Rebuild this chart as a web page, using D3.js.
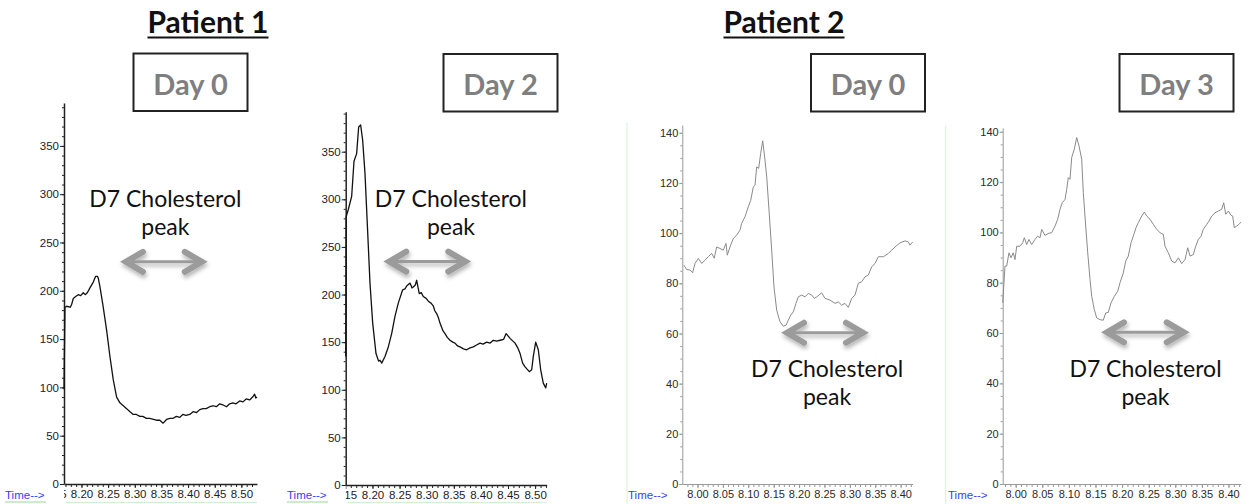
<!DOCTYPE html>
<html>
<head>
<meta charset="utf-8">
<title>D7 Cholesterol peak - Patient 1 and Patient 2</title>
<script src="https://cdn.jsdelivr.net/npm/d3@7"></script>
<style>
  body { margin: 0; background: #fff; }
  svg { display: block; }
  .tick text { font-family: "Liberation Sans", Arial, sans-serif; }
  .title { font-family: Lato, "Open Sans", sans-serif; font-weight: 700; }
  .note { font-family: Lato, "Open Sans", sans-serif; }
</style>
</head>
<body>
<svg id="chart" width="1249" height="504"></svg>
<script>
// ---- data: [time, abundance] ----
var p1Day0 = [[8.1672,98],[8.1690,183],[8.1723,184],[8.1790,183],[8.1816,186],[8.1846,192],[8.1890,194],[8.1940,196],
  [8.1985,195],[8.2034,198],[8.2070,196],[8.2109,198],[8.2159,203],[8.2221,209],[8.2266,215],[8.2300,215],[8.2315,213],
  [8.2347,204],[8.2408,183],[8.2472,159],[8.2534,132],[8.2596,108],[8.2659,90],[8.2721,84],[8.2785,81],[8.2847,78],
  [8.2905,75],[8.2970,72],[8.3030,72],[8.3096,70],[8.3150,70],[8.3220,68],[8.3283,68],[8.3350,67],[8.3408,66],
  [8.3470,66],[8.3532,63],[8.3600,67],[8.3657,68],[8.3720,68],[8.3780,70],[8.3845,69],[8.3900,72],[8.3960,71],
  [8.4032,72],[8.4100,75],[8.4160,74],[8.4219,77],[8.4280,78],[8.4340,78],[8.4406,80],[8.4470,81],[8.4530,80],
  [8.4594,83],[8.4650,82],[8.4720,80],[8.4781,83],[8.4840,84],[8.4900,83],[8.4968,86],[8.5030,85],[8.5090,88],
  [8.5155,87],[8.5210,90],[8.5249,93],[8.5270,89],[8.5293,90]];

var p1Day2 = [[8.1506,135],[8.1515,282],[8.1553,289],[8.1616,303],[8.1659,340],[8.1708,348],[8.1745,376],[8.1782,378],
  [8.1819,362],[8.1862,327],[8.1904,275],[8.1954,212],[8.2004,170],[8.2065,138],[8.2114,130],[8.2140,131],[8.2170,128],
  [8.2231,135],[8.2292,145],[8.2354,159],[8.2415,177],[8.2476,191],[8.2557,205],[8.2600,206],[8.2631,209],[8.2692,212],
  [8.2730,207],[8.2753,208],[8.2790,210],[8.2815,215],[8.2863,201],[8.2900,202],[8.2937,198],[8.2990,196],[8.3030,193],
  [8.3080,191],[8.3122,188],[8.3150,183],[8.3184,180],[8.3220,175],[8.3245,170],[8.3300,162],[8.3338,159],[8.3380,155],
  [8.3430,152],[8.3480,150],[8.3522,149],[8.3570,146],[8.3614,145],[8.3680,143],[8.3738,142],[8.3800,144],[8.3860,145],
  [8.3920,147],[8.3984,149],[8.4040,148],[8.4107,150],[8.4170,149],[8.4229,152],[8.4290,151],[8.4354,152],[8.4420,153],
  [8.4465,159],[8.4538,154],[8.4630,149],[8.4680,144],[8.4723,138],[8.4770,128],[8.4815,124],[8.4893,119],[8.4937,121],
  [8.4967,135],[8.5011,150],[8.5059,142],[8.5103,121],[8.5151,107],[8.5196,102],[8.5214,107]];

var p2Day0 = [[7.9734,87.2],[7.9787,85.5],[7.9852,85.3],[7.9905,84.2],[7.9951,87.9],[8.0016,89.9],[8.0083,87.9],
  [8.0148,89.2],[8.0213,90.6],[8.0280,91.9],[8.0330,90],[8.0378,94.5],[8.0443,93.9],[8.0508,93.2],[8.0561,95.9],
  [8.0587,91.2],[8.0640,94.5],[8.0705,97.9],[8.0772,99.2],[8.0837,101.2],[8.0870,103.9],[8.0935,106.5],[8.1000,110.5],
  [8.1048,113.1],[8.1099,118.4],[8.1132,119.1],[8.1166,126.4],[8.1205,125.8],[8.1244,131.8],[8.1284,136.8],[8.1329,129.1],
  [8.1363,122.4],[8.1408,109.2],[8.1461,93.2],[8.1506,78.6],[8.1559,69.3],[8.1624,64.7],[8.1689,62.9],[8.1743,63.3],
  [8.1788,65.3],[8.1835,67.3],[8.1886,68.6],[8.1939,72],[8.1985,74.6],[8.2052,75.3],[8.2117,74.6],[8.2182,76],
  [8.2249,75.3],[8.2300,74],[8.2347,74.6],[8.2445,76.2],[8.2510,74],[8.2609,73.3],[8.2707,72],[8.2772,72.6],
  [8.2839,71.3],[8.2904,72],[8.2969,70.4],[8.3036,74],[8.3101,75.3],[8.3166,80],[8.3233,80.6],[8.3298,82.6],
  [8.3363,83.3],[8.3430,86.6],[8.3495,87.9],[8.3560,90.6],[8.3659,90.6],[8.3757,91.9],[8.3824,93.2],[8.3889,94.5],
  [8.3987,96.1],[8.4086,96.9],[8.4151,96.5],[8.4184,95.2],[8.4237,96.5]];

var p2Day3 = [[7.9756,72],[7.9774,78],[7.9799,86.6],[7.9831,86.6],[7.9874,91.9],[7.9912,89.9],[7.9955,91.9],[7.9987,89.2],
  [8.0019,94.5],[8.0081,94.5],[8.0132,95.9],[8.0162,97.9],[8.0207,95.2],[8.0250,97.2],[8.0301,95.2],[8.0363,97.2],
  [8.0414,98.5],[8.0457,97.9],[8.0489,101.2],[8.0551,98.8],[8.0613,99.6],[8.0677,99.9],[8.0739,102.5],[8.0790,105.2],
  [8.0833,109.2],[8.0876,111.8],[8.0927,113.1],[8.0959,117.1],[8.0989,121.8],[8.1021,121.1],[8.1053,129.8],[8.1102,133.1],
  [8.1147,137.7],[8.1190,134.4],[8.1241,129.1],[8.1271,115.8],[8.1316,102.5],[8.1354,91.9],[8.1397,81.3],[8.1429,74.6],
  [8.1478,69.3],[8.1523,66],[8.1585,65.3],[8.1647,65.1],[8.1692,68],[8.1741,68.2],[8.1792,72],[8.1854,74.6],
  [8.1918,76.6],[8.1961,80],[8.2023,83.9],[8.2068,88.6],[8.2117,90.6],[8.2168,95.9],[8.2211,98.5],[8.2262,101.9],
  [8.2305,103.9],[8.2369,106.5],[8.2418,108.1],[8.2463,106.5],[8.2525,105.2],[8.2587,103.2],[8.2651,101.2],[8.2713,99.9],
  [8.2775,99.2],[8.2807,94.5],[8.2869,91.9],[8.2933,88.6],[8.2995,87.9],[8.3057,89.9],[8.3121,87.6],[8.3183,89.2],
  [8.3234,93.9],[8.3277,90.6],[8.3339,91.2],[8.3384,94.5],[8.3433,97.2],[8.3484,98.5],[8.3527,101.2],[8.3591,103.2],
  [8.3634,104.5],[8.3685,106.5],[8.3747,107.8],[8.3809,108.5],[8.3873,109.2],[8.3910,111.8],[8.3948,107.2],[8.3997,108.5],
  [8.4048,106.8],[8.4079,106.5],[8.4109,101.9],[8.4154,102.5],[8.4197,103.2],[8.4235,104.1]];

// tick labels
var yTicksP1 = [0, 50, 100, 150, 200, 250, 300, 350];
var yTicksP2 = [0, 20, 40, 60, 80, 100, 120, 140];
var xTicksP1 = [8.15, 8.20, 8.25, 8.30, 8.35, 8.40, 8.45, 8.50];
var xTicksP2 = [8.00, 8.05, 8.10, 8.15, 8.20, 8.25, 8.30, 8.35, 8.40];

var titles = ["Patient 1", "Patient 2"];
var days = ["Day 0", "Day 2", "Day 0", "Day 3"];
var noteLines = ["D7 Cholesterol", "peak"];

var svg = d3.select("#chart");
var defs = svg.append("defs");
var f = defs.append("filter").attr("id", "shadow").attr("x", "-20%").attr("y", "-60%").attr("width", "140%").attr("height", "260%");
f.append("feDropShadow").attr("dx", 1).attr("dy", 3).attr("stdDeviation", 2).attr("flood-color", "#000").attr("flood-opacity", 0.3);

// titles
[{t: titles[0], cx: 208}, {t: titles[1], cx: 784}].forEach(function (d) {
  var tx = svg.append("text").attr("class", "title").attr("x", d.cx).attr("y", 33)
    .attr("text-anchor", "middle").attr("font-size", 30).attr("fill", "#111").text(d.t);
  var w = tx.node().getComputedTextLength();
  svg.append("line").attr("x1", d.cx - w / 2).attr("x2", d.cx + w / 2)
    .attr("y1", 37.5).attr("y2", 37.5).attr("stroke", "#111").attr("stroke-width", 2);
});

// day boxes
var boxes = [{x: 133.5, y: 53.5}, {x: 443.5, y: 54}, {x: 811, y: 54}, {x: 1119.5, y: 54}];
boxes.forEach(function (b, i) {
  svg.append("rect").attr("x", b.x).attr("y", b.y).attr("width", 114).attr("height", 57.5)
    .attr("fill", "#fff").attr("stroke", "#222").attr("stroke-width", 2);
  svg.append("text").attr("class", "title").attr("x", b.x + 57).attr("y", b.y + 41)
    .attr("text-anchor", "middle").attr("font-size", 29).attr("fill", "#7f7f7f").text(days[i]);
});

var panels = [
  {data: p1Day0, x0: 64, x1: 257, xDom: [8.1672, 8.5293], yBase: 484, yTop: 103, yMax: 394.4,
   yTicks: yTicksP1, yStep: 10, xTicks: xTicksP1, dark: true, timeX: 5, frame: null,
   note: {t: 8.3573, v1: 287, v2: 258, a: [8.2796, 8.4294], av: 230}},
  {data: p1Day2, x0: 345.7, x1: 546.7, xDom: [8.1506, 8.5214], yBase: 485, yTop: 111.7, yMax: 392,
   yTicks: yTicksP1, yStep: 10, xTicks: xTicksP1, dark: true, timeX: 287, frame: null,
   note: {t: 8.3448, v1: 292.3, v2: 262.6, a: [8.2273, 8.3749], av: 234.6}},
  {data: p2Day0, x0: 682.3, x1: 912.7, xDom: [7.9701, 8.4237], yBase: 484, yTop: 125, yMax: 143.1,
   yTicks: yTicksP2, yStep: 5, xTicks: xTicksP2, dark: false, timeX: 628, frame: 627,
   note: {t: 8.2550, v1: 42.7, v2: 31.5, a: [8.1723, 8.3298], av: 60.3}},
  {data: p2Day3, x0: 1002.7, x1: 1241, xDom: [7.9756, 8.4235], yBase: 484, yTop: 128, yMax: 141.5,
   yTicks: yTicksP2, yStep: 5, xTicks: xTicksP2, dark: false, timeX: 948, frame: 945.7,
   note: {t: 8.2440, v1: 42.7, v2: 31.5, a: [8.1679, 8.3196], av: 60.3}}
];

panels.forEach(function (p, i) {
  var g = svg.append("g");
  var x = d3.scaleLinear().domain(p.xDom).range([p.x0, p.x1]);
  var y = d3.scaleLinear().domain([0, p.yMax]).range([p.yBase, p.yTop]);
  var axisCol = p.dark ? "#222" : "#999";
  var txtCol = p.dark ? "#1c1c28" : "#2a2a2a";
  var fs = p.dark ? 11.5 : 11;

  if (p.frame !== null) {
    g.append("line").attr("x1", p.frame).attr("x2", p.frame).attr("y1", p.yTop - 2).attr("y2", 504)
      .attr("stroke", "#d6f2d6").attr("stroke-width", 1);
  } else {
    g.append("line").attr("x1", p.timeX).attr("x2", p.timeX + 41).attr("y1", 502).attr("y2", 502)
      .attr("stroke", "#9ad89a").attr("stroke-width", 1);
    g.append("line").attr("x1", p.x0 + 2).attr("x2", p.x1).attr("y1", 502.5).attr("y2", 502.5)
      .attr("stroke", "#d2efd2").attr("stroke-width", 1);
  }

  // clip for labels cut at the left edge of the x axis (local coords of the axis group)
  defs.append("clipPath").attr("id", "clipx" + i).append("rect")
    .attr("x", p.x0).attr("y", -3).attr("width", p.x1 - p.x0 + 20).attr("height", 30);

  // y minor ticks
  var yMinor = d3.range(0, p.yMax, p.yStep);
  g.append("g").attr("transform", "translate(" + p.x0 + ",0)")
    .call(d3.axisLeft(y).tickValues(yMinor).tickSize(2).tickSizeOuter(0).tickFormat(""))
    .call(function (a) { a.select(".domain").remove(); a.selectAll("line").attr("stroke", axisCol); });

  var ya = g.append("g").attr("transform", "translate(" + p.x0 + ",0)")
    .call(d3.axisLeft(y).tickValues(p.yTicks).tickSize(p.dark ? 4 : 3).tickSizeOuter(0).tickPadding(1));
  ya.select(".domain").attr("stroke", axisCol).attr("stroke-width", p.dark ? 1.5 : 1);
  ya.selectAll("line").attr("stroke", axisCol);
  ya.selectAll("text").attr("font-size", fs).attr("fill", txtCol);

  // x minor ticks
  var xMinor = d3.range(Math.ceil(p.xDom[0] * 100), Math.floor(p.xDom[1] * 100) + 1).map(function (d) { return d / 100; });
  g.append("g").attr("transform", "translate(0," + p.yBase + ")")
    .call(d3.axisBottom(x).tickValues(xMinor).tickSize(3).tickSizeOuter(0).tickFormat(""))
    .call(function (a) { a.select(".domain").remove(); a.selectAll("line").attr("stroke", axisCol); });

  var xa = g.append("g").attr("transform", "translate(0," + p.yBase + ")").attr("clip-path", "url(#clipx" + i + ")")
    .call(d3.axisBottom(x).tickValues(p.xTicks).tickSize(4).tickSizeOuter(0).tickPadding(2).tickFormat(d3.format(".2f")));
  xa.select(".domain").attr("stroke", axisCol).attr("stroke-width", p.dark ? 1.5 : 1);
  xa.selectAll("line").attr("stroke", axisCol);
  xa.selectAll("text").attr("font-size", fs).attr("fill", txtCol);

  g.append("text").attr("x", p.timeX).attr("y", 499).attr("font-family", "Liberation Sans, Arial, sans-serif")
    .attr("font-size", 11.5).attr("fill", "#3340ff").text("Time-->");

  // trace
  var line = d3.line().x(function (d) { return x(d[0]); }).y(function (d) { return y(d[1]); });
  g.append("path").datum(p.data).attr("d", line).attr("fill", "none")
    .attr("stroke", p.dark ? "#111" : "#8a8a8a").attr("stroke-width", p.dark ? 1.3 : 1)
    .attr("stroke-linejoin", "round");

  // annotation
  var n = p.note;
  g.append("text").attr("class", "note").attr("x", x(n.t)).attr("y", y(n.v1)).attr("text-anchor", "middle")
    .attr("font-size", 23).attr("fill", "#111").text(noteLines[0]);
  g.append("text").attr("class", "note").attr("x", x(n.t)).attr("y", y(n.v2)).attr("text-anchor", "middle")
    .attr("font-size", 23).attr("fill", "#111").text(noteLines[1]);

  var ax0 = x(n.a[0]), ax1 = x(n.a[1]), ay = y(n.av);
  var arrow = g.append("g").attr("filter", "url(#shadow)");
  arrow.append("line").attr("x1", ax0 + 3).attr("x2", ax1 - 3).attr("y1", ay).attr("y2", ay)
    .attr("stroke", "#9b9b9b").attr("stroke-width", 3);
  arrow.append("path")
    .attr("d", "M" + (ax0 + 19) + "," + (ay - 10) + "L" + (ax0 + 2) + "," + ay + "L" + (ax0 + 19) + "," + (ay + 10) +
               "M" + (ax1 - 19) + "," + (ay - 10) + "L" + (ax1 - 2) + "," + ay + "L" + (ax1 - 19) + "," + (ay + 10))
    .attr("fill", "none").attr("stroke", "#9b9b9b").attr("stroke-width", 6).attr("stroke-linecap", "round")
    .attr("stroke-linejoin", "miter");
});
</script>
</body>
</html>
